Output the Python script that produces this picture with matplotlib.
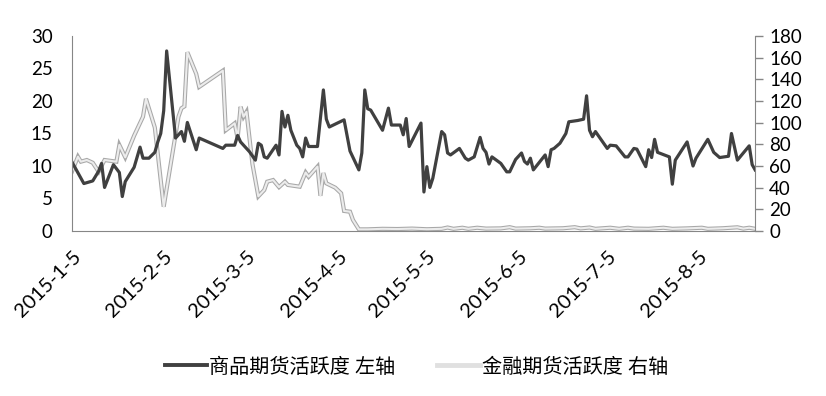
import numpy as np
import pandas as pd
import matplotlib
matplotlib.use('Agg')
import matplotlib.pyplot as plt
import matplotlib.dates as mdates
from matplotlib.lines import Line2D

plt.rcParams['font.family'] = ['Lato', 'Noto Sans CJK SC', 'DejaVu Sans']

# commodity futures activity (left axis)
com_days = ['01-05', '01-09', '01-12', '01-14', '01-15', '01-16', '01-19', '01-21', '01-22', '01-23',
            '01-26', '01-28', '01-29', '01-31', '02-02', '02-03', '02-04', '02-05', '02-06', '02-09',
            '02-10', '02-11', '02-12', '02-13', '02-16', '02-17', '02-25', '02-26', '03-01', '03-02',
            '03-03', '03-05', '03-06', '03-08', '03-09', '03-10', '03-11', '03-12', '03-15', '03-16',
            '03-17', '03-18', '03-19', '03-20', '03-22', '03-23', '03-24', '03-25', '03-26', '03-29',
            '03-31', '04-01', '04-02', '04-07', '04-09', '04-12', '04-13', '04-14', '04-15', '04-16',
            '04-20', '04-22', '04-23', '04-26', '04-27', '04-28', '04-29', '05-03', '05-04', '05-05',
            '05-06', '05-07', '05-10', '05-11', '05-12', '05-13', '05-16', '05-18', '05-19', '05-21',
            '05-23', '05-24', '05-25', '05-26', '05-27', '05-30', '06-01', '06-02', '06-04', '06-06',
            '06-07', '06-08', '06-09', '06-10', '06-14', '06-15', '06-16', '06-17', '06-19', '06-21',
            '06-22', '06-25', '06-27', '06-28', '06-29', '06-30', '07-01', '07-05', '07-06', '07-08',
            '07-11', '07-12', '07-14', '07-15', '07-18', '07-19', '07-20', '07-21', '07-22', '07-26',
            '07-27', '07-28', '08-01', '08-03', '08-04', '08-08', '08-10', '08-12', '08-15', '08-16',
            '08-18', '08-22', '08-23', '08-24']
com_vals = [10.6, 7.3, 7.7, 9.2, 10.4, 6.7, 10.2, 9.0, 5.3, 7.6,
            9.8, 12.9, 11.2, 11.2, 12.1, 13.7, 15.0, 18.5, 27.7, 14.3,
            14.8, 15.3, 13.8, 16.7, 12.5, 14.3, 12.7, 13.2, 13.2, 14.7,
            13.7, 12.7, 12.2, 10.9, 13.5, 13.2, 11.4, 11.2, 13.2, 11.7,
            18.4, 16.0, 17.8, 15.5, 13.2, 12.7, 11.4, 14.3, 13.0, 13.0,
            21.7, 17.2, 16.0, 17.1, 12.3, 9.4, 12.0, 21.7, 18.8, 18.6,
            15.5, 18.9, 16.3, 16.3, 14.8, 17.3, 13.0, 16.6, 6.0, 9.9,
            6.7, 8.1, 15.3, 14.8, 12.0, 11.7, 12.7, 11.2, 10.9, 11.4,
            14.4, 12.7, 12.1, 10.3, 11.4, 10.4, 9.1, 9.1, 11.0, 12.0,
            10.7, 10.3, 11.2, 9.4, 11.7, 9.9, 12.5, 12.7, 13.5, 15.0,
            16.8, 17.0, 17.2, 20.8, 15.5, 14.5, 15.3, 12.7, 13.2, 13.1,
            11.4, 11.4, 12.7, 12.6, 9.9, 12.5, 11.3, 14.1, 12.1, 11.4,
            7.2, 10.9, 13.7, 10.0, 11.2, 14.1, 12.1, 11.3, 11.5, 15.0,
            10.9, 13.1, 10.2, 9.4]

# financial futures activity (right axis)
fin_days = ['01-05', '01-07', '01-08', '01-10', '01-12', '01-14', '01-16', '01-20', '01-21', '01-23',
            '01-26', '01-29', '01-30', '02-02', '02-05', '02-10', '02-11', '02-12', '02-13', '02-16',
            '02-17', '02-25', '02-26', '03-01', '03-02', '03-03', '03-04', '03-05', '03-07', '03-09',
            '03-11', '03-12', '03-14', '03-16', '03-18', '03-19', '03-23', '03-25', '03-26', '03-29',
            '03-30', '03-31', '04-01', '04-04', '04-06', '04-07', '04-09', '04-10', '04-12', '04-15',
            '04-20', '04-25', '04-30', '05-05', '05-10', '05-12', '05-14', '05-17', '05-19', '05-22',
            '05-25', '05-30', '06-02', '06-04', '06-09', '06-12', '06-14', '06-20', '06-24', '06-26',
            '06-29', '07-01', '07-06', '07-09', '07-12', '07-14', '07-19', '07-24', '07-27', '08-01',
            '08-06', '08-08', '08-13', '08-18', '08-20', '08-22', '08-24']
fin_vals = [55, 68.6, 64, 65.5, 63, 54.7, 65.5, 64, 79.4, 68,
            88, 105.5, 122, 95.5, 22.4, 105.5, 113.3, 115, 165, 145,
            133, 148, 93, 99.4, 85.6, 114.7, 105.5, 110, 62, 32,
            37.8, 45.5, 47, 40.5, 45.5, 42.5, 40.9, 54, 50.1, 59.4,
            32.5, 53.5, 44, 40, 34.8, 18.5, 17.8, 10.2, 1.5, 1.5,
            2.0, 1.8, 2.2, 1.6, 2.0, 3.2, 2.0, 3.0, 2.0, 3.0,
            2.2, 2.4, 3.5, 2.2, 2.5, 3.0, 2.2, 2.5, 3.5, 2.4,
            3.2, 2.0, 3.0, 2.0, 3.0, 2.2, 2.0, 3.0, 2.0, 2.4,
            3.0, 2.0, 2.5, 3.4, 2.2, 3.0, 2.0]

com_dates = pd.to_datetime(['2015-' + d for d in com_days])
fin_dates = pd.to_datetime(['2015-' + d for d in fin_days])
tick_dates = pd.to_datetime(['2015-%d-05' % m for m in range(1, 9)])
tick_labels = ['2015-%d-5' % m for m in range(1, 9)]

fig = plt.figure(figsize=(8.26, 3.96), dpi=100)
ax = fig.add_axes([0.0872, 0.4167, 0.8270, 0.4924])
ax2 = ax.twinx()

# financial line: light gray with darker rim
ax2.plot(fin_dates, fin_vals, color='#a8a8a8', lw=3.0, solid_joinstyle='miter')
ax2.plot(fin_dates, fin_vals, color='#ececec', lw=1.5)
ax.plot(com_dates, com_vals, color='#404040', lw=2.3)

ax.set_zorder(ax2.get_zorder() + 1)
ax.patch.set_visible(False)

ax.set_xlim(pd.Timestamp('2015-01-05'), pd.Timestamp('2015-08-24'))
ax.set_ylim(0, 30)
ax2.set_ylim(0, 180)
ax.set_yticks(np.arange(0, 31, 5))
ax2.set_yticks(np.arange(0, 181, 20))
ax.set_xticks(tick_dates)
ax.set_xticklabels(tick_labels, rotation=45, ha='right', rotation_mode='anchor', fontsize=14.5)

for a in (ax, ax2):
    a.spines['top'].set_visible(False)
    for s in ('left', 'right', 'bottom'):
        a.spines[s].set_color('#868686')
ax.spines['right'].set_visible(False)
ax2.spines['left'].set_visible(False)
ax2.spines['bottom'].set_visible(False)

ax.tick_params(axis='y', length=0, pad=14, labelsize=13.5, labelcolor='#000000')
ax.tick_params(axis='x', length=0, pad=12, labelcolor='#000000')
ax2.tick_params(axis='y', length=6, width=1, color='#868686', pad=4, labelsize=13.5)

handles = [Line2D([], [], color='#404040', lw=2.8),
           Line2D([], [], color='#e0e0e0', lw=3.5)]
fig.legend(handles, ['商品期货活跃度 左轴', '金融期货活跃度 右轴'],
           loc='center', bbox_to_anchor=(0.504, 0.076), ncol=2, frameon=False,
           fontsize=14.5, handlelength=2.1, handletextpad=0.1, columnspacing=2.1)

fig.savefig('out.png', dpi=100)
